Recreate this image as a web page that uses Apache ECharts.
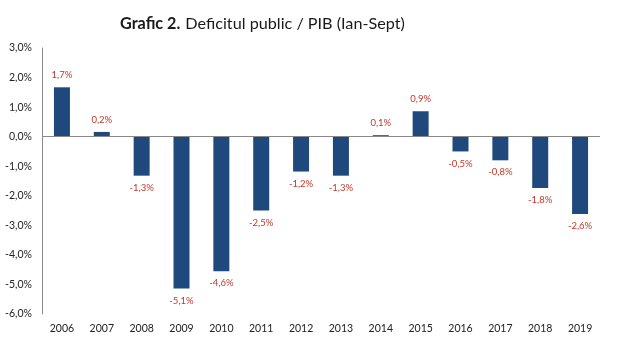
<!DOCTYPE html>
<html><head><meta charset="utf-8">
<script src="https://cdn.jsdelivr.net/npm/echarts@6/dist/echarts.min.js"></script>
<style>html,body{margin:0;padding:0;background:#fff}#c{width:620px;height:363px}</style>
</head><body><div id="c"></div>
<script>
const years = ['2006','2007','2008','2009','2010','2011','2012','2013','2014','2015','2016','2017','2018','2019'];
const deficit = [1.7, 0.2, -1.3, -5.1, -4.6, -2.5, -1.2, -1.3, 0.1, 0.9, -0.5, -0.8, -1.8, -2.6];
const barValues = [1.67, 0.16, -1.32, -5.14, -4.55, -2.5, -1.18, -1.32, 0.05, 0.86, -0.5, -0.8, -1.74, -2.62];
const yTicks = [3, 2, 1, 0, -1, -2, -3, -4, -5, -6];

const fmt = v => v.toFixed(1).replace('.', ',') + '%';
const font = 'Lato, "Open Sans", sans-serif';

const chart = echarts.init(document.getElementById('c'));
chart.setOption({
  animation: false,
  title: {
    text: '{b|Grafic 2.} {r|Deficitul public / PIB (Ian-Sept)}',
    left: 115, top: 10,
    textStyle: {
      fontWeight: 'normal',
      rich: {
        b: {fontFamily: font, fontWeight: 'bold', fontSize: 16.2, color: '#1a1a1a'},
        r: {fontFamily: font, fontWeight: 'normal', fontSize: 16.2, color: '#1a1a1a'}
      }
    }
  },
  grid: {left: 42, right: 20, top: 48, bottom: 49},
  xAxis: {
    type: 'category', data: years,
    axisLine: {show: false, onZero: false},
    axisTick: {show: false},
    axisLabel: {color: '#222', fontSize: 10.5, fontFamily: font, margin: 9}
  },
  yAxis: {
    type: 'value', min: -6, max: 3, interval: 1,
    axisLine: {show: true, lineStyle: {color: '#888', width: 1}},
    axisTick: {show: false},
    splitLine: {show: false},
    axisLabel: {color: '#222', fontSize: 10.5, fontFamily: font, margin: 10,
      formatter: v => fmt(v)}
  },
  series: [{
    type: 'bar',
    barWidth: 16,
    itemStyle: {color: '#1f497d'},
    data: barValues.map((v, i) => ({
      value: v,
      label: {
        show: true,
        position: v >= 0 ? 'top' : 'bottom',
        distance: 7,
        formatter: fmt(deficit[i]),
        color: '#c0392b', fontSize: 9.5, fontFamily: font
      }
    })),
    markLine: {
      silent: true, symbol: 'none',
      label: {show: false},
      lineStyle: {color: '#888', width: 1, type: 'solid'},
      data: [{yAxis: 0}]
    }
  }]
});
</script>
</body></html>
